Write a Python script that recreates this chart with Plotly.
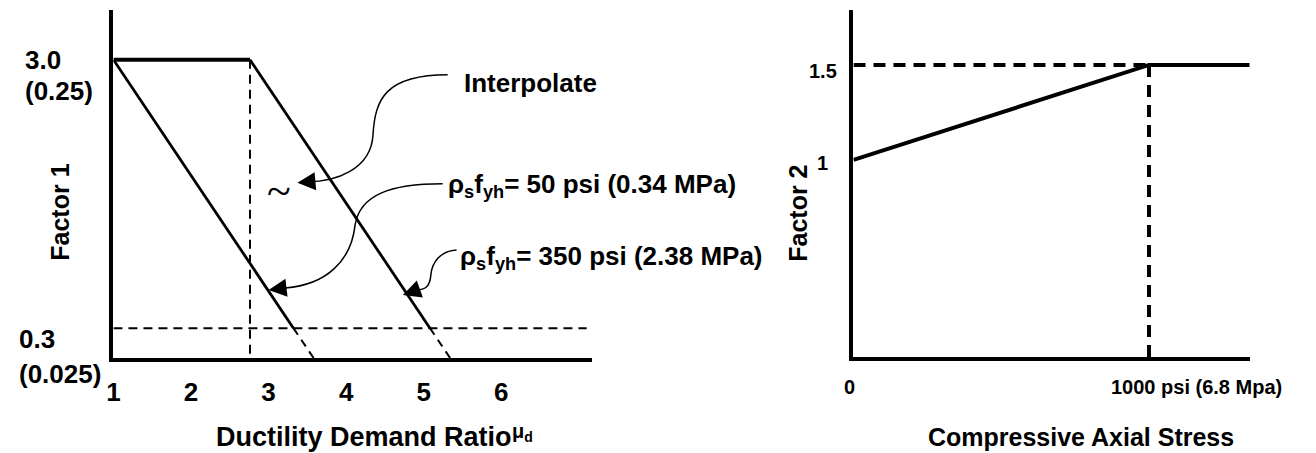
import plotly.graph_objects as go

W, H = 1316, 453
FONT = "Liberation Sans, Arial, Helvetica, sans-serif"

# ---------------- Data: left panel (Factor 1 vs ductility demand ratio) ----------
x_ticks = [1, 2, 3, 4, 5, 6]
x_ticktext = ["1", "2", "3", "4", "5", "6"]

plateau_x = [1.0, 2.76]
plateau_y = [3.0, 3.0]
line50_x = [1.0, 3.32]
line50_y = [3.0, 0.3]
ext50_x = [3.32, 3.58]
ext50_y = [0.3, 0.0]
line350_x = [2.76, 5.08]
line350_y = [3.0, 0.3]
ext350_x = [5.08, 5.34]
ext350_y = [0.3, 0.0]
ref_v_x = [2.76, 2.76]
ref_v_y = [3.0, 0.0]
ref_h_x = [1.0, 7.10]
ref_h_y = [0.3, 0.3]

# ---------------- Data: right panel (Factor 2 vs compressive axial stress) -------
f2_x = [0, 1000, 1340]
f2_y = [1.0, 1.5, 1.5]
ref2_h_x = [0, 1000]
ref2_h_y = [1.5, 1.5]
ref2_v_x = [1000, 1000]
ref2_v_y = [1.5, -0.04]


def px(x):
    return x / W


def py(y):
    return 1 - y / H


fig = go.Figure()


def add(x, y, xa, ya, width, dash="solid"):
    fig.add_trace(go.Scatter(x=x, y=y, mode="lines", xaxis=xa, yaxis=ya,
                             line=dict(color="black", width=width, dash=dash),
                             hoverinfo="skip", showlegend=False))


add(ref_v_x, ref_v_y, "x", "y", 2, "9px,6px")
add(ref_h_x, ref_h_y, "x", "y", 2, "9px,6px")
add(ext50_x, ext50_y, "x", "y", 2, "8px,6px")
add(ext350_x, ext350_y, "x", "y", 2, "8px,6px")
add(plateau_x, plateau_y, "x", "y", 4)
add(line50_x, line50_y, "x", "y", 2.8)
add(line350_x, line350_y, "x", "y", 2.8)

add(ref2_h_x, ref2_h_y, "x2", "y2", 4, "12px,8px")
add(ref2_v_x, ref2_v_y, "x2", "y2", 4, "12px,8px")
add(f2_x, f2_y, "x2", "y2", 4)

axis_common = dict(showgrid=False, zeroline=False, showline=True, linecolor="black",
                   linewidth=4, ticks="", mirror=False, fixedrange=True)

fig.update_layout(
    width=W, height=H,
    margin=dict(l=0, r=0, t=0, b=0),
    paper_bgcolor="white", plot_bgcolor="white",
    showlegend=False,
    font=dict(family=FONT, color="black"),
    xaxis=dict(domain=[px(107), px(588)], range=[1, 7.167], anchor="y",
               tickmode="array", tickvals=x_ticks, ticktext=x_ticktext,
               tickfont=dict(size=26, family=FONT, weight="bold"),
               ticklabelstandoff=8, **axis_common),
    yaxis=dict(domain=[py(358), py(10)], range=[0, 3.5], anchor="x",
               showticklabels=False, **axis_common),
    xaxis2=dict(domain=[px(851), px(1250)], range=[0, 1343], anchor="y2",
                showticklabels=False, **axis_common),
    yaxis2=dict(domain=[py(357), py(10)], range=[-0.037, 1.789], anchor="x2",
                showticklabels=False, **axis_common),
)

# ---------------- curved leaders (left panel, in axis units) -------------------
leaders = [
    "M 5.308,2.849 C 4.500,2.849 4.372,2.597 4.346,2.245 C 4.321,1.893 3.859,1.772 3.500,1.772",
    "M 5.244,1.752 C 4.564,1.752 4.179,1.641 4.115,1.339 C 4.064,0.966 3.731,0.735 3.218,0.705",
    "M 5.423,1.087 C 5.218,1.077 5.103,0.966 5.090,0.826 C 5.077,0.715 5.013,0.685 4.910,0.685",
]
for p in leaders:
    fig.add_shape(type="path", path=p, xref="x", yref="y",
                  line=dict(color="black", width=1.5))

arrow_tips = [(3.372, 1.762, 11, -1), (3.0, 0.685, 17, -2), (4.731, 0.634, 14, -5)]
for x, y, ax, ay in arrow_tips:
    fig.add_annotation(x=x, y=y, xref="x", yref="y", text="", showarrow=True,
                       ax=ax, ay=ay, arrowhead=2, arrowsize=2.4, arrowwidth=1.5,
                       arrowcolor="black", standoff=0)

bold26 = dict(family=FONT, size=26, color="black", weight="bold")

fig.add_annotation(x=5.487, y=2.769, xref="x", yref="y", text="Interpolate",
                   showarrow=False, xanchor="left", yanchor="middle", font=bold26)
fig.add_annotation(x=5.282, y=1.732, xref="x", yref="y",
                   text="ρ<sub>s</sub>f<sub>yh</sub>= 50 psi (0.34 MPa)",
                   showarrow=False, xanchor="left", yanchor="middle", font=bold26)
fig.add_annotation(x=5.436, y=1.007, xref="x", yref="y",
                   text="ρ<sub>s</sub>f<sub>yh</sub>= 350 psi (2.38 MPa)",
                   showarrow=False, xanchor="left", yanchor="middle", font=bold26)
fig.add_annotation(x=3.128, y=1.671, xref="x", yref="y", text="~",
                   showarrow=False, xanchor="center", yanchor="middle",
                   font=dict(family="Liberation Serif, Times New Roman, serif", size=44, color="black"))

# left y-axis labels
for txt, xl, yc in [("3.0", 16, 60), ("(0.25)", 16, 91), ("0.3", 10, 339), ("(0.025)", 10, 374)]:
    fig.add_annotation(x=px(xl), y=py(yc), xref="paper", yref="paper", text=txt,
                       showarrow=False, xanchor="left", yanchor="middle", font=bold26)

fig.add_annotation(x=px(53), y=py(212), xref="paper", yref="paper", text="Factor 1",
                   textangle=-90, showarrow=False, xanchor="center", yanchor="middle",
                   font=dict(family=FONT, size=25, color="black", weight="bold"))
fig.add_annotation(x=px(208), y=py(437), xref="paper", yref="paper",
                   text="Ductility Demand Ratio", showarrow=False,
                   xanchor="left", yanchor="middle",
                   font=dict(family=FONT, size=27, color="black", weight="bold"))
fig.add_annotation(x=px(506), y=py(432), xref="paper", yref="paper",
                   text="μ<sub>d</sub>", showarrow=False,
                   xanchor="left", yanchor="middle",
                   font=dict(family=FONT, size=20, color="black", weight="bold"))

# ---------------- right panel labels -------------------------------------------
bold20 = dict(family=FONT, size=20, color="black", weight="bold")
fig.add_annotation(x=px(820), y=1.5, xref="paper", yref="y2", yshift=-6, text="1.5",
                   showarrow=False, xanchor="center", yanchor="middle", font=bold20)
fig.add_annotation(x=px(820), y=1.0, xref="paper", yref="y2", yshift=-3, text="1",
                   showarrow=False, xanchor="center", yanchor="middle", font=bold20)
fig.add_annotation(x=0, y=py(387), xref="x2", yref="paper", xshift=-4, text="0",
                   showarrow=False, xanchor="center", yanchor="middle", font=bold20)
fig.add_annotation(x=1000, y=py(387), xref="x2", yref="paper", xshift=-40,
                   text="1000 psi (6.8 Mpa)",
                   showarrow=False, xanchor="left", yanchor="middle", font=bold20)
fig.add_annotation(x=px(795), y=py(213), xref="paper", yref="paper", text="Factor 2",
                   textangle=-90, showarrow=False, xanchor="center", yanchor="middle",
                   font=dict(family=FONT, size=25, color="black", weight="bold"))
fig.add_annotation(x=px(1080), y=py(437), xref="paper", yref="paper",
                   text="Compressive Axial Stress", showarrow=False,
                   xanchor="center", yanchor="middle",
                   font=dict(family=FONT, size=25, color="black", weight="bold"))

fig.write_html("out.html", config={"displayModeBar": False},
               post_script="document.body.style.margin='0';document.body.style.overflow='hidden';")
